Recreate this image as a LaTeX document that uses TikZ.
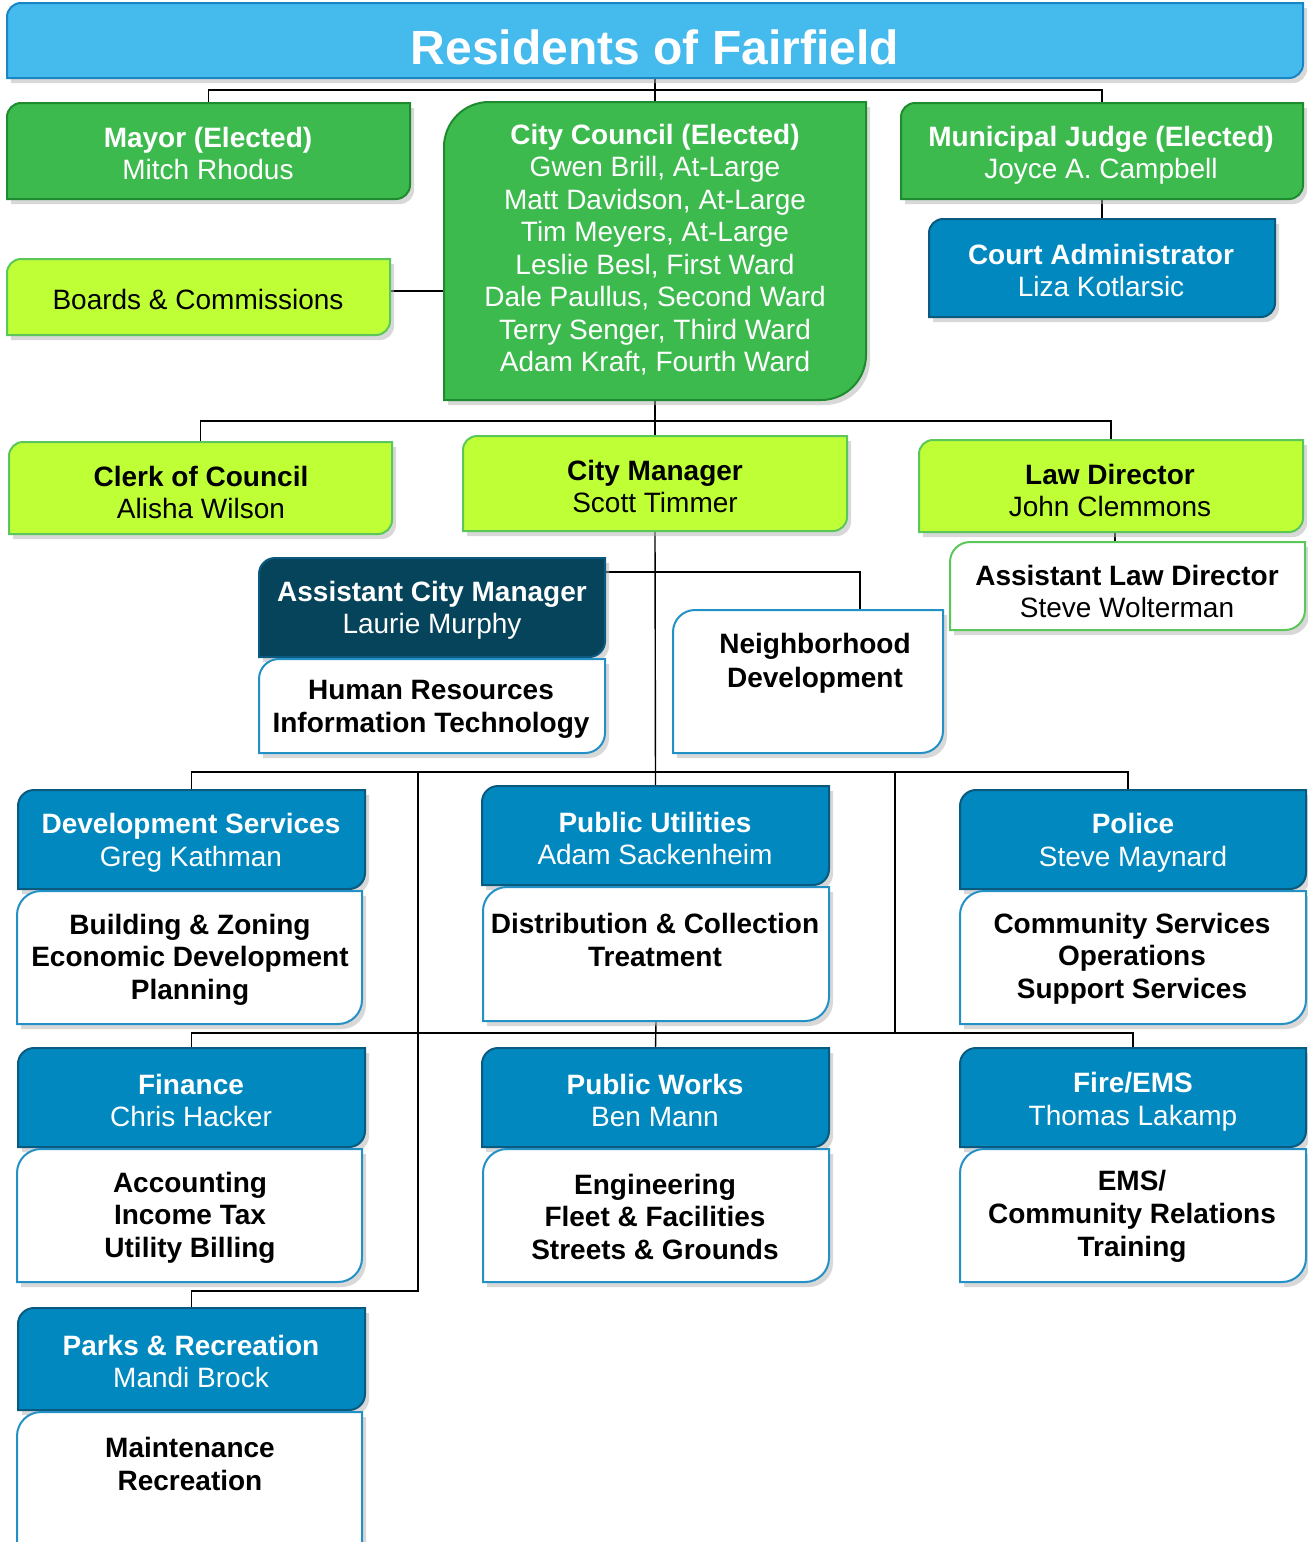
\documentclass[tikz,border=0pt]{standalone}
\usepackage{fontspec}
\setmainfont{Liberation Sans}
\usepackage{tikz}
\usetikzlibrary{shadows, backgrounds, calc}
\usepackage{xcolor}

\definecolor{sky}{HTML}{45BAED}
\definecolor{skyline}{HTML}{1A85C4}
\definecolor{leaf}{HTML}{3DBA4E}
\definecolor{leafline}{HTML}{1F8B2F}
\definecolor{lime}{HTML}{BFFF36}
\definecolor{limeline}{HTML}{5BC75A}
\definecolor{sea}{HTML}{0088BF}
\definecolor{sealine}{HTML}{0A5A80}
\definecolor{deep}{HTML}{05445A}
\definecolor{subline}{HTML}{2390C6}

\begin{document}
\begin{tikzpicture}[x=1pt, y=-1pt,
    box/.style={inner sep=0pt, outer sep=0pt},
    txt/.style={align=center, inner sep=0pt, yshift=-2.5pt, font=\fontsize{28}{32.5}\selectfont},
    wtxt/.style={txt, text=white},
    btxt/.style={txt, text=black},
    link/.style={draw=black, line width=1.4pt}]
  \useasboundingbox (0,0) rectangle (1308,1542);

  % boxes: name / corners / fill / line / radius
  \foreach \n/\xa/\ya/\xb/\yb/\f/\d/\r in {
    title/7/3/1303/78/sky/skyline/14pt,
    mayor/7/103/410/199/leaf/leafline/14pt,
    council/444/102/866/400/leaf/leafline/45pt,
    judge/901/103/1303/199/leaf/leafline/14pt,
    court/929/219/1275/317/sea/sealine/14pt,
    boards/7/259/390/335/lime/limeline/14pt,
    clerk/9/442/392/534/lime/limeline/14pt,
    manager/463/436/847/531/lime/limeline/14pt,
    law/919/440/1303/532/lime/limeline/14pt,
    asstlaw/950/542/1305/630/white/limeline/20pt,
    acm/259/558/605/657/deep/sealine/16pt,
    hrit/259/659/605/753/white/subline/20pt,
    neigh/673/610/943/753/white/subline/22pt,
    devsvc/18/790/365/889/sea/sealine/16pt,
    devsub/17/891/362/1024/white/subline/24pt,
    utilities/482/786/829/885/sea/sealine/16pt,
    utilsub/483/887/829/1021/white/subline/24pt,
    police/960/790/1306/889/sea/sealine/16pt,
    policesub/960/891/1306/1024/white/subline/24pt,
    finance/18/1048/365/1147/sea/sealine/16pt,
    finsub/17/1149/362/1282/white/subline/24pt,
    works/482/1048/829/1147/sea/sealine/16pt,
    workssub/483/1149/829/1282/white/subline/24pt,
    fire/960/1048/1306/1147/sea/sealine/16pt,
    firesub/960/1149/1306/1282/white/subline/24pt,
    parks/18/1308/365/1410/sea/sealine/16pt,
    parksub/17/1412/362/1570/white/subline/24pt
  } {
    \node[box, minimum width={\xb-\xa}, minimum height={\yb-\ya}] (\n) at ({(\xa+\xb)/2},{(\ya+\yb)/2}) {};
    \path[fill=\f, draw=\d, line width=2pt,
      drop shadow={shadow xshift=4pt, shadow yshift=-5pt, fill=black!30}]
      (\n.south west) -- ([yshift=-\r]\n.north west)
      arc[start angle=180, end angle=90, radius=\r] -- (\n.north east)
      -- ([yshift=\r]\n.south east)
      arc[start angle=0, end angle=-90, radius=\r] -- cycle;
  }

  \node[wtxt, font=\fontsize{48}{56}\selectfont\bfseries] (title-t) at (655,45) {Residents of Fairfield};
  \node[wtxt] (mayor-t) at (208,151) {\textbf{Mayor (Elected)}\\Mitch Rhodus};
  \node[wtxt] (council-t) at (655,247) {\textbf{City Council (Elected)}\\Gwen Brill, At-Large\\Matt Davidson, At-Large\\Tim Meyers, At-Large\\Leslie Besl, First Ward\\Dale Paullus, Second Ward\\Terry Senger, Third Ward\\Adam Kraft, Fourth Ward};
  \node[wtxt] (judge-t) at (1101,153) {\textbf{Municipal Judge (Elected)}\\Joyce A. Campbell};
  \node[wtxt] (court-t) at (1101,268) {\textbf{Court Administrator}\\Liza Kotlarsic};
  \node[btxt] (boards-t) at (198,297) {Boards \& Commissions};
  \node[btxt] (clerk-t) at (201,490) {\textbf{Clerk of Council}\\Alisha Wilson};
  \node[btxt] (manager-t) at (655,484) {\textbf{City Manager}\\Scott Timmer};
  \node[btxt] (law-t) at (1110,488) {\textbf{Law Director}\\John Clemmons};
  \node[btxt] (asstlaw-t) at (1127,589) {\textbf{Assistant Law Director}\\Steve Wolterman};
  \node[wtxt] (acm-t) at (432,608) {\textbf{Assistant City Manager}\\Laurie Murphy};
  \node[btxt, font=\fontsize{28}{32.5}\selectfont\bfseries] (hrit-t) at (431,707) {Human Resources\\Information Technology};
  \node[btxt, font=\fontsize{28}{34}\selectfont\bfseries] (neigh-t) at (815,661) {Neighborhood\\Development};
  \node[wtxt] (devsvc-t) at (191,840) {\textbf{Development Services}\\Greg Kathman};
  \node[btxt, font=\fontsize{28}{32.5}\selectfont\bfseries] (devsub-t) at (190,957) {Building \& Zoning\\Economic Development\\Planning};
  \node[wtxt] (utilities-t) at (655,836) {\textbf{Public Utilities}\\Adam Sackenheim};
  \node[btxt, font=\fontsize{28}{33}\selectfont\bfseries] (utilsub-t) at (655,937) {Distribution \& Collection\\Treatment};
  \node[wtxt] (police-t) at (1133,840) {\textbf{Police}\\Steve Maynard};
  \node[btxt, font=\fontsize{28}{32.5}\selectfont\bfseries] (policesub-t) at (1132,956) {Community Services\\Operations\\Support Services};
  \node[wtxt] (finance-t) at (191,1098) {\textbf{Finance}\\Chris Hacker};
  \node[btxt, font=\fontsize{28}{32.5}\selectfont\bfseries] (finsub-t) at (190,1215) {Accounting\\Income Tax\\Utility Billing};
  \node[wtxt] (works-t) at (655,1098) {\textbf{Public Works}\\Ben Mann};
  \node[btxt, font=\fontsize{28}{32.5}\selectfont\bfseries] (workssub-t) at (655,1214) {Engineering\\Fleet \& Facilities\\Streets \& Grounds};
  \node[wtxt] (fire-t) at (1133,1099) {\textbf{Fire/EMS}\\Thomas Lakamp};
  \node[btxt, font=\fontsize{28}{33}\selectfont\bfseries] (firesub-t) at (1132,1214) {EMS/\\Community Relations\\Training};
  \node[wtxt] (parks-t) at (191,1359) {\textbf{Parks \& Recreation}\\Mandi Brock};
  \node[btxt, font=\fontsize{28}{33}\selectfont\bfseries] (parksub-t) at (190,1461) {Maintenance\\Recreation};

  % connectors
  \begin{scope}[on background layer]
    \coordinate (bus1) at (655,90);
    \coordinate (bus2) at (655,421);
    \coordinate (bus3) at (656,572);
    \coordinate (bus4) at (656,772);
    \coordinate (bus5) at (656,1033);
    \coordinate (trunkL) at (418,772);
    \coordinate (trunkR) at (895,772);
    \draw[link] (title.south) -- (council.north);
    \draw[link] (mayor.north) |- (bus1) -| (judge.north);
    \draw[link] (boards.east |- 0,291) -- (council.west |- 0,291);
    \draw[link] (judge.south) -- (court.north);
    \draw[link] (council.south) -- (manager.north);
    \draw[link] (clerk.north) |- (bus2) -| (law.north);
    \draw[link] (1115,0 |- law.south) -- (1115,0 |- asstlaw.north);
    \draw[link] (manager.south) -- (utilities.north);
    \draw[link] (acm.east |- bus3) -- (bus3) -| ([xshift=52pt]neigh.north);
    \draw[link] (devsvc.north) |- (bus4) -| ([xshift=-5pt]police.north);
    \draw[link] (finance.north) |- (bus5) -| (fire.north);
    \draw[link] (utilsub.south) -- (works.north);
    \draw[link] (trunkL) |- (parks.north |- 0,1291) -- (parks.north);
    \draw[link] (trunkR) -- (trunkR |- bus5);
  \end{scope}
\end{tikzpicture}
\end{document}
